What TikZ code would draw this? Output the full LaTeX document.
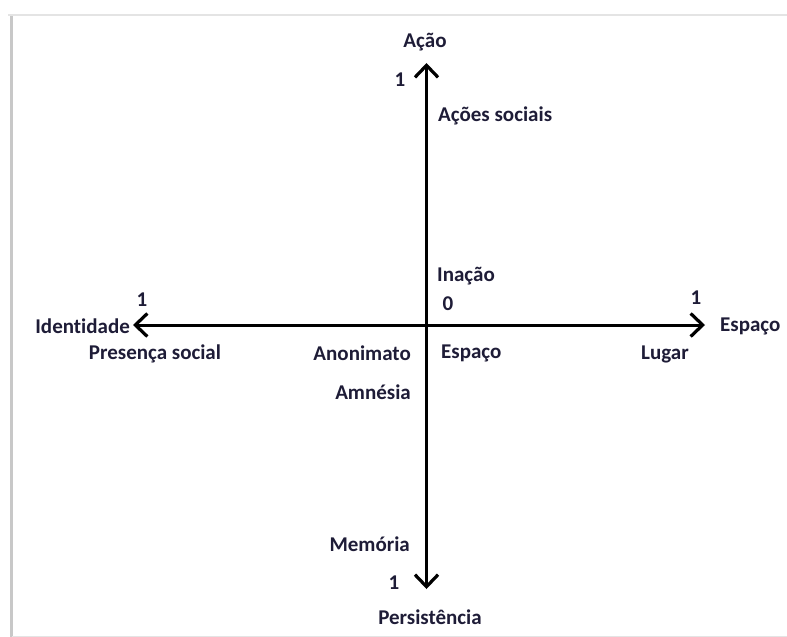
\documentclass[tikz,border=0pt]{standalone}
\usepackage{fontspec}
\setmainfont{Carlito}[Ligatures={NoCommon}]
\usetikzlibrary{arrows.meta}
\definecolor{txt}{RGB}{30,28,55}
\definecolor{frameA}{RGB}{200,200,200}
\definecolor{frameB}{RGB}{228,228,228}
\tikzset{
  lbl/.style={font=\bfseries\fontsize{21}{23}\selectfont, text=txt, inner sep=0pt},
  axis/.style={line width=3pt, draw=black, -{Straight Barb[length=12pt,width=23pt,line width=3.2pt]}}
}
\begin{document}
\begin{tikzpicture}[x=1pt,y=-1pt]
\useasboundingbox (0,0) rectangle (787,637);
\fill[white] (0,0) rectangle (787,637);
% frame shadow
\draw[frameA, line width=3pt] (11.5,15) -- (11.5,637);
\draw[frameB, line width=2pt] (8,15) -- (787,15);
\draw[frameB, line width=1pt] (12,636) -- (787,636);
% axis endpoints
\coordinate (O) at (426.5,325);
\coordinate (T) at (426.5,63);
\coordinate (B) at (426.5,589);
\coordinate (L) at (133,325);
\coordinate (R) at (705,325);
\draw[axis] (O) -- (T);
\draw[axis] (O) -- (B);
\draw[axis] (O) -- (L);
\draw[axis] (O) -- (R);
% labels
\node[lbl] (acao) at (425,42) {Ação};
\node[lbl] (oneT) at (400,80) {1};
\node[lbl, anchor=west] (acoes) at (438,116) {Ações sociais};
\node[lbl, anchor=west] (inacao) at (437,276) {Inação};
\node[lbl] (zero) at (448,304) {0};
\node[lbl] (oneL) at (142,300) {1};
\node[lbl, anchor=east] (ident) at (130,326) {Identidade};
\node[lbl] (presenca) at (155,354) {Presença social};
\node[lbl] (oneR) at (696,298) {1};
\node[lbl, anchor=west] (espacoR) at (720,326) {Espaço};
\node[lbl, anchor=east] (anon) at (411,353) {Anonimato};
\node[lbl, anchor=west] (espacoC) at (441,353) {Espaço};
\node[lbl] (lugar) at (665,354) {Lugar};
\node[lbl, anchor=east] (amnesia) at (411,392) {Amnésia};
\node[lbl, anchor=east] (memoria) at (410,544) {Memória};
\node[lbl] (oneB) at (394,583) {1};
\node[lbl] (persist) at (430,617) {Persistência};
\end{tikzpicture}
\end{document}
